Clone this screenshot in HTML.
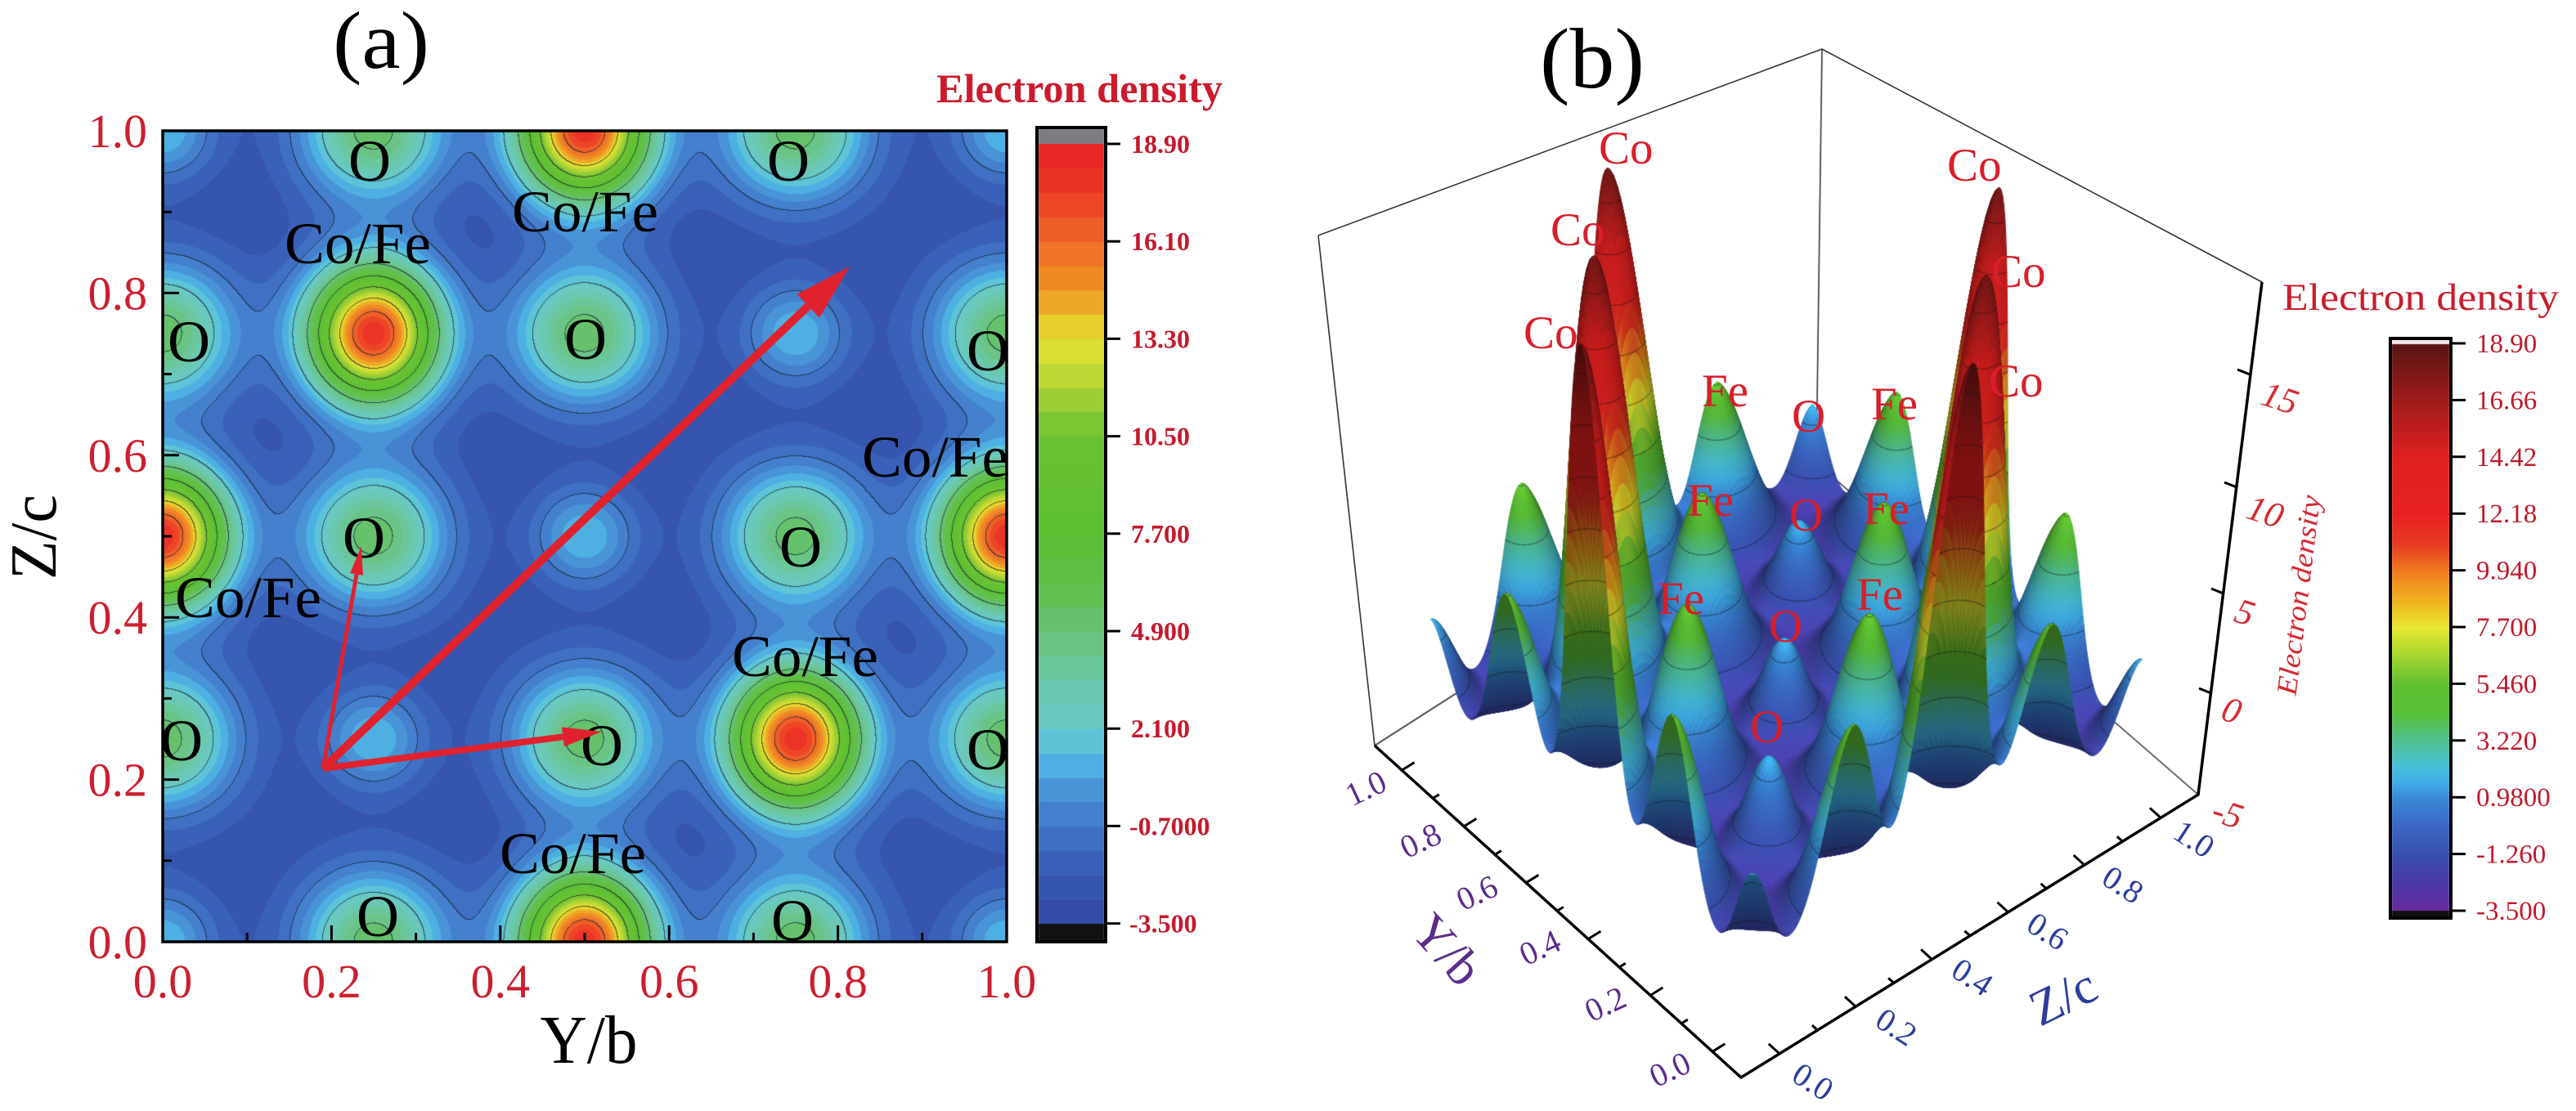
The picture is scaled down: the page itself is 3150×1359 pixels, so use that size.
<!DOCTYPE html>
<html><head><meta charset="utf-8">
<style>
html,body{margin:0;padding:0;background:#fff;}
#wrap{position:relative;width:3150px;height:1359px;overflow:hidden;background:#fff;}
canvas,svg{position:absolute;left:0;top:0;}
text{font-family:"Liberation Serif","DejaVu Serif",serif;}
</style></head><body><div id="wrap">
<canvas id="cv" width="3150" height="1359"></canvas>
<svg width="3150" height="1359" viewBox="0 0 3150 1359" xmlns="http://www.w3.org/2000/svg">
<defs>
<marker id="m1" viewBox="0 0 10 10" refX="0" refY="5" markerWidth="7" markerHeight="3.2" orient="auto" preserveAspectRatio="none"><path d="M0,0L10,5L0,10z" fill="#e0222e"/></marker>
<marker id="m2" viewBox="0 0 10 10" refX="0" refY="5" markerWidth="7" markerHeight="4" orient="auto" preserveAspectRatio="none"><path d="M0,0L10,5L0,10z" fill="#e0222e"/></marker>
<marker id="m3" viewBox="0 0 10 10" refX="0" refY="5" markerWidth="6" markerHeight="3" orient="auto" preserveAspectRatio="none"><path d="M0,0L10,5L0,10z" fill="#e0222e"/></marker>
</defs>

<!-- ===== Panel (a) ===== -->
<text x="466" y="83" font-size="100" text-anchor="middle" textLength="118" lengthAdjust="spacingAndGlyphs">(a)</text>
<text x="1145" y="125" font-size="50" font-weight="bold" fill="#cc1a2c" textLength="350" lengthAdjust="spacingAndGlyphs">Electron density</text>

<g font-size="72" fill="#000" text-anchor="middle">
<text x="452" y="221">O</text><text x="964" y="221">O</text>
<text x="231" y="442">O</text><text x="716" y="439">O</text><text x="1208" y="453">O</text>
<text x="445" y="682">O</text><text x="979" y="693">O</text>
<text x="222" y="930">O</text><text x="736" y="936">O</text><text x="1208" y="941">O</text>
<text x="462" y="1145">O</text><text x="969" y="1150">O</text>
</g>
<g font-size="72" fill="#000">
<text x="626" y="283" textLength="179" lengthAdjust="spacingAndGlyphs">Co/Fe</text>
<text x="348" y="322" textLength="179" lengthAdjust="spacingAndGlyphs">Co/Fe</text>
<text x="1054" y="583" textLength="179" lengthAdjust="spacingAndGlyphs">Co/Fe</text>
<text x="214" y="755" textLength="179" lengthAdjust="spacingAndGlyphs">Co/Fe</text>
<text x="895" y="827" textLength="179" lengthAdjust="spacingAndGlyphs">Co/Fe</text>
<text x="611" y="1068" textLength="179" lengthAdjust="spacingAndGlyphs">Co/Fe</text>
</g>

<!-- arrows -->
<line x1="395" y1="940" x2="436" y2="702.5" stroke="#e0222e" stroke-width="5" marker-end="url(#m1)"/>
<line x1="395" y1="940" x2="988.3" y2="374.3" stroke="#e0222e" stroke-width="10" marker-end="url(#m2)"/>
<line x1="395" y1="940" x2="688.4" y2="901.3" stroke="#e0222e" stroke-width="8" marker-end="url(#m3)"/>

<rect x="199" y="160" width="1032" height="992" fill="none" stroke="#000" stroke-width="3.5"/>
<path d="M199 1152v-20 M302.2 1152v-11 M405.4 1152v-20 M508.6 1152v-11 M611.8 1152v-20 M715 1152v-11 M818.2 1152v-20 M921.4 1152v-11 M1024.6 1152v-20 M1127.8 1152v-11 M1231 1152v-20 M199 1052.8h11 M199 953.6h20 M199 854.4h11 M199 755.2h20 M199 656h11 M199 556.8h20 M199 457.6h11 M199 358.4h20 M199 259.2h11" stroke="#000" stroke-width="3" fill="none"/>

<g font-size="58" fill="#cc1f2e" text-anchor="middle">
<text x="199" y="1220">0.0</text><text x="405.4" y="1220">0.2</text><text x="611.8" y="1220">0.4</text>
<text x="818.2" y="1220">0.6</text><text x="1024.6" y="1220">0.8</text><text x="1231" y="1220">1.0</text>
</g>
<g font-size="58" fill="#cc1f2e" text-anchor="end">
<text x="180" y="1172">0.0</text><text x="180" y="973.6">0.2</text><text x="180" y="775.2">0.4</text>
<text x="180" y="576.8">0.6</text><text x="180" y="378.4">0.8</text><text x="180" y="180">1.0</text>
</g>
<text x="720" y="1300" font-size="84" text-anchor="middle" textLength="119" lengthAdjust="spacingAndGlyphs">Y/b</text>
<text transform="translate(68,657) rotate(-90)" font-size="80" text-anchor="middle" textLength="104" lengthAdjust="spacingAndGlyphs">Z/c</text>

<!-- colorbar (a) -->
<rect x="1268" y="156" width="84" height="996" fill="none" stroke="#000" stroke-width="4"/>
<path d="M1352 176h18 M1352 295.2h18 M1352 414.4h18 M1352 533.6h18 M1352 652.8h18 M1352 772h18 M1352 891.2h18 M1352 1010.4h18 M1352 1129.6h18" stroke="#000" stroke-width="3"/>
<g font-size="32" font-weight="bold" fill="#c41a2c">
<text x="1383" y="187">18.90</text><text x="1383" y="306.2">16.10</text><text x="1383" y="425.4">13.30</text>
<text x="1383" y="544.6">10.50</text><text x="1383" y="663.8">7.700</text><text x="1383" y="783">4.900</text>
<text x="1383" y="902.2">2.100</text><text x="1381" y="1021.4">-0.7000</text><text x="1381" y="1140.6">-3.500</text>
</g>

<!-- ===== Panel (b) ===== -->
<text x="1947" y="107" font-size="105" text-anchor="middle" textLength="128" lengthAdjust="spacingAndGlyphs">(b)</text>
<path d="M1612 288L1681 912 M1612 288L2228 60L2766 345" stroke="#333" stroke-width="1.6" fill="none"/>
<path d="M1681 912L2129 1318L2688 972L2766 345" stroke="#000" stroke-width="3.5" fill="none" stroke-linejoin="miter"/>
<path d="M2094.1 1286.3l15.3 -9.5 M2056.1 1251.9l7.7 -4.7 M2018.1 1217.5l15.3 -9.5 M1980.1 1183l7.7 -4.7 M1942.1 1148.6l15.3 -9.5 M1904.1 1114.2l7.7 -4.7 M1866.1 1079.8l15.3 -9.5 M1828.1 1045.3l7.7 -4.7 M1790.1 1010.9l15.3 -9.5 M1752.1 976.5l7.7 -4.7 M1714.2 942.1l15.3 -9.5" stroke="#000" stroke-width="3"/>
<path d="M2176 1288.9l-13.3 -12.1 M2222.6 1260.1l-6.7 -6 M2269.2 1231.2l-13.3 -12.1 M2315.8 1202.4l-6.7 -6 M2362.4 1173.5l-13.3 -12.1 M2409.1 1144.7l-6.7 -6 M2455.7 1115.8l-13.3 -12.1 M2502.3 1086.9l-6.7 -6 M2548.9 1058.1l-13.3 -12.1 M2595.5 1029.2l-6.7 -6 M2642.2 1000.4l-13.3 -12.1" stroke="#000" stroke-width="3"/>
<path d="M2751 458l-15 -6 M2735 596l-15 -6 M2719 726l-15 -6 M2704 848l-15 -6" stroke="#000" stroke-width="3"/>

<g font-size="40" fill="#5b2c8c" text-anchor="middle" dominant-baseline="central">
<text transform="translate(1670,964) rotate(-25)">1.0</text>
<text transform="translate(1737,1028) rotate(-25)">0.8</text>
<text transform="translate(1806,1092) rotate(-25)">0.6</text>
<text transform="translate(1883,1159) rotate(-25)">0.4</text>
<text transform="translate(1963,1228) rotate(-25)">0.2</text>
<text transform="translate(2042,1308) rotate(-25)">0.0</text>
</g>
<text transform="translate(1769,1162) rotate(48)" font-size="62" fill="#5b2c8c" text-anchor="middle" dominant-baseline="central">Y/b</text>
<g font-size="40" fill="#2c3c9c" text-anchor="middle" dominant-baseline="central">
<text transform="translate(2217,1323) rotate(33)">0.0</text>
<text transform="translate(2319,1256) rotate(33)">0.2</text>
<text transform="translate(2412,1195) rotate(33)">0.4</text>
<text transform="translate(2504,1139) rotate(33)">0.6</text>
<text transform="translate(2596,1082) rotate(33)">0.8</text>
<text transform="translate(2683,1026) rotate(33)">1.0</text>
</g>
<text transform="translate(2523,1220) rotate(-26)" font-size="62" fill="#2c3c9c" text-anchor="middle" dominant-baseline="central">Z/c</text>
<g font-size="44" font-style="italic" fill="#d42a30" text-anchor="middle" dominant-baseline="central">
<text transform="translate(2788,487) rotate(18)">15</text>
<text transform="translate(2770,626) rotate(18)">10</text>
<text transform="translate(2745,749) rotate(18)">5</text>
<text transform="translate(2729,869) rotate(18)">0</text>
<text transform="translate(2724,995) rotate(18)">-5</text>
</g>
<text transform="translate(2811,728) rotate(-83)" font-size="35" font-style="italic" fill="#d42a30" text-anchor="middle" dominant-baseline="central" textLength="246" lengthAdjust="spacingAndGlyphs">Electron density</text>

<g font-size="57" fill="#d81e2a">
<text x="1955" y="200">Co</text><text x="1896" y="300">Co</text><text x="1863" y="426">Co</text>
<text x="2381" y="221">Co</text><text x="2435" y="351">Co</text><text x="2432" y="485">Co</text>
<text x="2081" y="497">Fe</text><text x="2288" y="513">Fe</text><text x="2063" y="631">Fe</text>
<text x="2278" y="641">Fe</text><text x="2027" y="751">Fe</text><text x="2270" y="746">Fe</text>
<text x="2191" y="528">O</text><text x="2188" y="649">O</text><text x="2163" y="785">O</text><text x="2140" y="908">O</text>
</g>

<text x="2791" y="379" font-size="47" fill="#c81e2c" textLength="338" lengthAdjust="spacingAndGlyphs">Electron density</text>
<rect x="2923" y="414" width="74" height="709" fill="none" stroke="#000" stroke-width="4"/>
<path d="M2997 420h18 M2997 489.4h18 M2997 558.8h18 M2997 628.2h18 M2997 697.6h18 M2997 767h18 M2997 836.4h18 M2997 905.8h18 M2997 975.2h18 M2997 1044.6h18 M2997 1114h18" stroke="#000" stroke-width="3"/>
<g font-size="33" fill="#c01a2a">
<text x="3028" y="431">18.90</text><text x="3028" y="500.4">16.66</text><text x="3028" y="569.8">14.42</text>
<text x="3028" y="639.2">12.18</text><text x="3028" y="708.6">9.940</text><text x="3028" y="778">7.700</text>
<text x="3028" y="847.4">5.460</text><text x="3028" y="916.8">3.220</text><text x="3028" y="986.2">0.9800</text>
<text x="3028" y="1055.6">-1.260</text><text x="3028" y="1125">-3.500</text>
</g>
</svg></div>
<script>
(function(){
var cv=document.getElementById('cv');var ctx=cv.getContext('2d');
function hex(h){return [parseInt(h.substr(1,2),16),parseInt(h.substr(3,2),16),parseInt(h.substr(5,2),16)];}
function mkmap(st){var s=st.map(function(a){var c=hex(a[1]);return [a[0],c[0],c[1],c[2]];});
 return function(v){var n=s.length;if(v<=s[0][0])return [s[0][1],s[0][2],s[0][3]];if(v>=s[n-1][0])return [s[n-1][1],s[n-1][2],s[n-1][3]];
  for(var k=1;k<n;k++){if(v<=s[k][0]){var a=s[k-1],b=s[k],t=(v-a[0])/(b[0]-a[0]);return [a[1]+(b[1]-a[1])*t,a[2]+(b[2]-a[2])*t,a[3]+(b[3]-a[3])*t];}}
  return [0,0,0];};}
var cmA=mkmap([[-3.5,'#3048a4'],[-2.8,'#3450aa'],[-2.1,'#385ab4'],[-1.4,'#3c68be'],[-0.7,'#4278c8'],[0.0,'#4688d2'],[0.7,'#4aa0dc'],[1.4,'#52c0e8'],[2.1,'#68c8c8'],[3.5,'#6cc8a8'],[4.9,'#68c27a'],[6.0,'#62c050'],[7.7,'#5cbf34'],[10.5,'#6cc232'],[11.5,'#9ccd36'],[12.5,'#c8dc34'],[13.3,'#e6e22e'],[13.9,'#e9c22a'],[14.7,'#f09424'],[16.1,'#ef6a28'],[17.5,'#ec3a26'],[18.9,'#e82024']]);
var cmB=mkmap([[-3.5,'#6a2aa0'],[-2.4,'#4a3aa8'],[-1.26,'#3a50b0'],[0.0,'#3a6cc8'],[0.98,'#3a8ad8'],[1.6,'#40b0e8'],[2.2,'#48c0d8'],[3.22,'#50c090'],[4.3,'#58c038'],[5.46,'#60c030'],[6.6,'#a8d830'],[7.7,'#e8e830'],[8.8,'#f0b020'],[9.94,'#f07a20'],[11.0,'#e83a20'],[12.18,'#e82222'],[14.42,'#e02020'],[16.66,'#a01c1c'],[18.9,'#5a1414']]);
var comps=[];
for(var i=-2;i<=6;i++)for(var j=-2;j<=6;j++){var Y=i/4,Z=j/4,odd=((i+j)%2+2)%2,d=((i-j)%4+4)%4;
 if(odd){comps.push([Y,Z,6.5,0.055,0.055]);comps.push([Y,Z,2.3,0.09,0.09]);}
 else if(d===2)comps.push([Y,Z,21.2,0.055,0.06]);
 else comps.push([Y,Z,4.5,0.045,0.045]);}
var BASE=-3.3,nc=comps.length;
function f(Y,Z){var s=BASE;for(var k=0;k<nc;k++){var c=comps[k],dy=Y-c[0],dz=Z-c[1];if(dy>0.45||dy<-0.45||dz>0.45||dz<-0.45)continue;s+=c[2]*Math.exp(-dy*dy/(2*c[3]*c[3])-dz*dz/(2*c[4]*c[4]));}return s;}

/* ---- panel (a) field ---- */
var AX=199,AY=160,AW=1032,AH=992;
var EY=[],EZ=[];
for(var k=0;k<nc;k++){var c=comps[k];var a=new Float32Array(AW),b=new Float32Array(AH);
 for(var x=0;x<AW;x++){var dd=(x+0.5)/AW-c[0];a[x]=Math.exp(-dd*dd/(2*c[3]*c[3]));}
 for(var y=0;y<AH;y++){var dd2=1-(y+0.5)/AH-c[1];b[y]=Math.exp(-dd2*dd2/(2*c[4]*c[4]));}
 EY.push(a);EZ.push(b);}
var V=new Float32Array(AW*AH);
for(var y=0;y<AH;y++){var act=[];for(var k=0;k<nc;k++)if(EZ[k][y]>1e-6)act.push(k);
 for(var x=0;x<AW;x++){var s=BASE;for(var q=0;q<act.length;q++){var kk=act[q];var e=EY[kk][x];if(e>1e-6)s+=comps[kk][2]*e*EZ[kk][y];}V[y*AW+x]=s;}}
var bands=[];for(var bi=0;bi<32;bi++)bands.push(cmA(-3.5+0.7*(bi+0.5)));
var img=ctx.createImageData(AW,AH),D=img.data;
function ci(v){return Math.floor((v+0.7)/2.8);}
for(var y=0;y<AH;y++)for(var x=0;x<AW;x++){var v=V[y*AW+x];var bb=Math.floor((v+3.5)/0.7);if(bb<0)bb=0;if(bb>31)bb=31;var col=bands[bb];
 var c0=ci(v),line=false;
 if(x<AW-1&&ci(V[y*AW+x+1])!==c0)line=true;
 if(y<AH-1&&ci(V[(y+1)*AW+x])!==c0)line=true;
 var o=(y*AW+x)*4,r=col[0],g=col[1],bl=col[2];
 if(line){r=r*0.3+25*0.7;g=g*0.3+35*0.7;bl=bl*0.3+50*0.7;}
 D[o]=r;D[o+1]=g;D[o+2]=bl;D[o+3]=255;}
ctx.putImageData(img,AX,AY);

/* colorbar (a) */
ctx.fillStyle='#7c7d82';ctx.fillRect(1270,158,80,18);
for(var y=176;y<1130;y++){var v=18.9-(y-176)*22.4/954;var bb=Math.floor((v+3.5)/0.7);bb=Math.max(0,Math.min(31,bb));var cc=bands[bb];
 ctx.fillStyle='rgb('+(cc[0]|0)+','+(cc[1]|0)+','+(cc[2]|0)+')';ctx.fillRect(1270,y,80,1);}
ctx.fillStyle='#111';ctx.fillRect(1270,1130,80,22);

/* colorbar (b) */
ctx.fillStyle='#f3e6e6';ctx.fillRect(2925,416,70,5);
for(var y=421;y<1114;y++){var v=18.9-(y-420)*22.4/694;var cc=cmB(v);ctx.fillStyle='rgb('+(cc[0]|0)+','+(cc[1]|0)+','+(cc[2]|0)+')';ctx.fillRect(2925,y,70,1);}
ctx.fillStyle='#111';ctx.fillRect(2925,1114,70,8);

/* ---- panel (b) surface ---- */
var F0=[2129,1318],L0=[1681,912],R0=[2688,972],B0=[2221,566],F1=[2150,573],L1=[1612,288],R1=[2766,345],B1=[2228,60];
function proj(Y,Z,v){if(v>5)v=v+(v-5)*0.12;var u=(Y+0.1)/1.2,w=(Z+0.1)/1.2,h=(v+5)/25;
 var a=(1-u)*(1-w),b=u*(1-w),c=(1-u)*w,d=u*w;
 var bx=F0[0]*a+L0[0]*b+R0[0]*c+B0[0]*d,by=F0[1]*a+L0[1]*b+R0[1]*c+B0[1]*d;
 var tx=F1[0]*a+L1[0]*b+R1[0]*c+B1[0]*d,ty=F1[1]*a+L1[1]*b+R1[1]*c+B1[1]*d;
 return [bx+(tx-bx)*h,by+(ty-by)*h];}
ctx.strokeStyle='#333';ctx.lineWidth=1.6;ctx.beginPath();ctx.moveTo(2228,60);ctx.lineTo(2221,566);ctx.moveTo(1681,912);ctx.lineTo(2221,566);ctx.lineTo(2688,972);ctx.stroke();
function off(v){return v<1?0.3:(v>3?0:0.3*(3-v)/2);}
var N=200,M=N+1;var VV=new Float32Array(M*M),VC=new Float32Array(M*M),PX=new Float32Array(M*M),PY=new Float32Array(M*M);
for(var i=0;i<M;i++)for(var j=0;j<M;j++){var Y=i/N,Z=j/N,v=f(Y,Z),id=i*M+j;VV[id]=v;VC[id]=v+off(v);var p=proj(Y,Z,v);PX[id]=p[0];PY[id]=p[1];}
var levels=[16.66,14.42,12.18,9.94,7.7,5.46,3.22,0.98,-1.26];
var lx=-0.45,ly=-0.35,lz=0.82,ln=Math.sqrt(lx*lx+ly*ly+lz*lz);lx/=ln;ly/=ln;lz/=ln;
ctx.lineJoin='round';
for(var s=2*(N-1);s>=0;s--){for(var i=Math.max(0,s-(N-1));i<=Math.min(N-1,s);i++){var j=s-i;
 var ia=i*M+j,ib=(i+1)*M+j,ic=(i+1)*M+j+1,idd=i*M+j+1;
 var va=VV[ia],vb=VV[ib],vc=VV[ic],vd=VV[idd];
 var vm=(VC[ia]+VC[ib]+VC[ic]+VC[idd])/4;
 var col=cmB(vm);
 var gy=((vb+vc)-(va+vd))*0.5*N*0.049,gz=((vc+vd)-(va+vb))*0.5*N*0.049;
 var nn=Math.sqrt(gy*gy+gz*gz+1);var lam=(-lx*gy-ly*gz+lz)/nn;
 var sh=0.5+0.6*lam;if(sh<0.55)sh=0.55;if(sh>1.06)sh=1.06;
 var cs='rgb('+Math.min(255,col[0]*sh|0)+','+Math.min(255,col[1]*sh|0)+','+Math.min(255,col[2]*sh|0)+')';
 ctx.beginPath();ctx.moveTo(PX[ia],PY[ia]);ctx.lineTo(PX[ib],PY[ib]);ctx.lineTo(PX[ic],PY[ic]);ctx.lineTo(PX[idd],PY[idd]);ctx.closePath();
 ctx.fillStyle=cs;ctx.fill();ctx.strokeStyle=cs;ctx.lineWidth=1;ctx.stroke();
 var ca=VC[ia],cb=VC[ib],cc2=VC[ic],cd=VC[idd];
 var mn=Math.min(ca,cb,cc2,cd),mx=Math.max(ca,cb,cc2,cd);
 for(var li=0;li<levels.length;li++){var L=levels[li];if(L<=mn||L>=mx)continue;
  var E=[[ca,cb,i,j,i+1,j,va,vb],[cb,cc2,i+1,j,i+1,j+1,vb,vc],[cc2,cd,i+1,j+1,i,j+1,vc,vd],[cd,ca,i,j+1,i,j,vd,va]];
  var pts=[];
  for(var e=0;e<4;e++){var q=E[e];if((q[0]-L)*(q[1]-L)<0){var t=(L-q[0])/(q[1]-q[0]);var Yp=(q[2]+(q[4]-q[2])*t)/N,Zp=(q[3]+(q[5]-q[3])*t)/N;pts.push(proj(Yp,Zp,q[6]+(q[7]-q[6])*t));}}
  if(pts.length>=2){ctx.beginPath();ctx.moveTo(pts[0][0],pts[0][1]);ctx.lineTo(pts[1][0],pts[1][1]);
   if(pts.length===4){ctx.moveTo(pts[2][0],pts[2][1]);ctx.lineTo(pts[3][0],pts[3][1]);}
   ctx.strokeStyle='rgba(20,20,20,0.55)';ctx.lineWidth=1.3;ctx.stroke();}
 }
}}
})();
</script>
</body></html>
